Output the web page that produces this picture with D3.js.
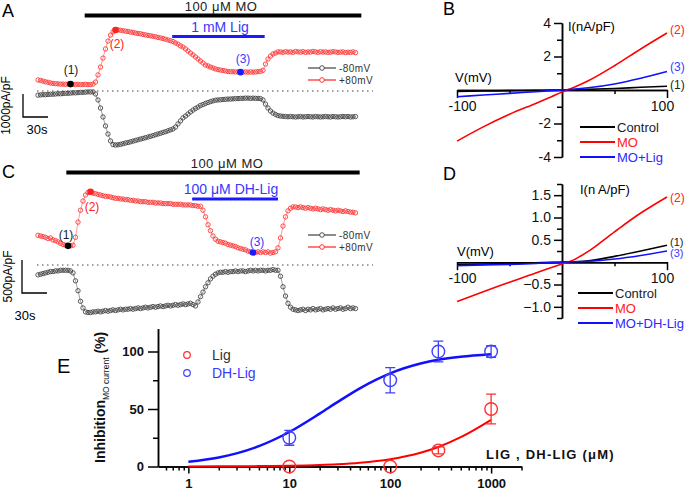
<!DOCTYPE html>
<html><head><meta charset="utf-8">
<script src="https://cdn.jsdelivr.net/npm/d3@7"></script>
<style>body{margin:0;background:#fff} svg{display:block} text{font-family:"Liberation Sans",Arial,sans-serif}</style>
</head><body><svg id="c" width="685" height="492"></svg>
<script>
// ---------- DATA ----------
const sampleInterval = 3; // seconds between samples (traces A, C)
// Panel A: current density (pA/pF)
const aPlus80 = [480,460,430,400,380,350,330,320,
310,300,300,290,300,300,290,280,290,280,280,290,280,280,
300,390,700,1040,1430,1830,2170,2430,2570,2650,
2660,2640,2620,2600,2590,2560,2550,2520,2500,2490,2460,2440,2420,2400,2380,2360,2330,2310,2280,2250,2220,2190,2150,
2090,2040,1960,1910,1830,1740,1650,1570,1480,1390,1300,1220,1130,1090,1040,1000,
960,930,910,890,870,
850,840,840,830,830,820,820,830,820,830,820,830,840,850,
900,1170,1390,1520,1610,1650,1700,
1700,1680,1710,1690,1700,1680,1720,1700,1690,1710,1680,1700,1690,1720,1700,1680,1710,1690,1700,1680,1690,1710,1700,1680,1690,1700,1670,1690,1680,1700,1670];
const aMinus80 = [-180,-170,-160,-160,-150,-140,-140,-130,-120,-120,-110,-100,-100,-90,-80,-80,-70,-60,-60,-50,-40,-40,-40,
-130,-390,-740,-1130,-1520,-1870,-2170,-2330,-2350,
-2340,-2320,-2290,-2260,-2240,-2210,-2180,-2150,-2120,-2090,-2060,-2030,-2000,-1970,-1940,-1900,-1870,-1840,-1800,-1770,-1730,-1690,-1650,
-1570,-1430,-1300,-1170,-1090,-1000,-910,-830,-760,-700,-630,-590,-540,-500,-460,-430,
-400,-390,-380,-370,-360,-350,-350,-340,-330,-330,-320,-320,-310,-310,-320,-310,-320,-320,-330,
-390,-570,-740,-870,-960,-1020,-1070,-1090,
-1100,-1110,-1120,-1110,-1120,-1130,-1120,-1110,-1130,-1120,-1110,-1120,-1130,-1110,-1120,-1130,-1120,-1110,-1120,-1130,-1110,-1120,-1130,-1120,-1110,-1120,-1110,-1130,-1120,-1110];
const aMarks = [13, 31, 81];          // sample index of (1), (2), (3)
const aMOperiod = [56, 388];          // s
const aLigPeriod = [161, 272];        // s
// Panel C
const cPlus80 = [450,440,430,420,400,410,380,370,350,330,310,300,
290,290,300,
420,650,830,970,1060,1100,1110,
1090,1080,1070,1060,1050,1040,1040,1030,1020,1010,1010,1000,1000,990,990,980,980,970,970,960,960,960,950,950,950,940,940,940,930,930,930,930,920,920,920,920,910,910,910,910,900,900,890,
890,830,730,610,520,440,390,360,350,
340,330,310,300,290,280,260,250,240,230,210,200,190,
190,200,190,200,190,200,180,190,200,
260,410,590,730,820,860,880,
880,870,880,870,860,870,860,850,860,850,840,850,840,830,840,830,820,830,820,810,820,810,800,800,790];
const cMinus80 = [-150,-140,-130,-120,-110,-100,-100,-90,-90,-80,-80,-80,-80,-90,
-120,-240,-390,-550,-650,-710,
-720,-720,-710,-710,-700,-710,-700,-690,-700,-690,-680,-690,-680,-670,-680,-670,-670,-660,-670,-660,-650,-660,-650,-640,-650,-640,-630,-640,-630,-620,-630,-620,-610,-620,-610,-600,-610,-600,-590,-600,-590,-580,-600,
-620,-560,-480,-410,-330,-270,-210,-170,-140,
-120,-110,-110,-100,-110,-100,-100,-90,-100,-90,-90,-100,-90,-80,-90,-80,-90,-80,-80,-90,-80,-80,-70,-80,-80,
-170,-330,-470,-580,-640,-670,-680,-690,
-680,-670,-690,-670,-680,-660,-680,-670,-660,-680,-670,-660,-670,-650,-670,-660,-650,-670,-660,-640,-660,-650,-660];
const cMarks = [12, 21, 86];
const cMOperiod = [34, 386];
const cLigPeriod = [185, 288];
// Panels B, D: I-V curves (nA/pF)
const ivV = [-100,-75,-50,-25,-10,0,10,25,50,75,100];
const bControl = [-0.08,-0.06,-0.04,-0.02,-0.01,0,0.01,0.04,0.09,0.16,0.22];
const bMO      = [-3.05,-2.2,-1.45,-0.8,-0.4,-0.12,0.12,0.55,1.45,2.45,3.4];
const bMOLig   = [-0.4,-0.3,-0.2,-0.1,-0.04,0,0.04,0.13,0.36,0.7,1.1];
const dControl = [-0.06,-0.05,-0.03,-0.015,-0.005,0,0.005,0.03,0.13,0.25,0.38];
const dMO      = [-0.88,-0.66,-0.45,-0.24,-0.12,-0.04,0.04,0.24,0.68,1.1,1.46];
const dMODHLig = [-0.08,-0.06,-0.05,-0.03,-0.01,0,0.01,0.02,0.07,0.15,0.25];
const bYTicks = [-4,-2,2,4], bYMinor = [-3,-1,1,3];
const dYTicks = [-1,-0.5,0.5,1,1.5], dYMinor = [-1.25,-0.75,-0.25,0.25,0.75,1.25,1.75];
const ivXTicks = [-100,100], ivXMinor = [-50,50];
// Panel E: concentration-response
const conc = [10,100,300,1000];
const ligMean = [0,0,14,50], ligErr = [0,0,3,13];
const dhMean = [25,75,100,100], dhErr = [6.5,11,9,5];
const fitX = [1,2,3,5,10,20,30,50,100,200,300,500,1000];
const fitLig = [0.07,0.14,0.2,0.34,0.68,1.35,2.0,3.3,6.4,12,17,25.5,40.6];
const fitDH  = [4.1,7.9,11.4,17.7,30,46,56,68,81,89.5,92.8,95.5,97.7];
const eXTicks = [1,10,100,1000];
const eXMinor = [0.6,0.7,0.8,0.9,2,3,4,5,6,7,8,9,20,30,40,50,60,70,80,90,200,300,400,500,600,700,800,900,2000];
const eYTicks = [0,50,100], eYMinor = [25,75];

// ---------- DRAW ----------
const svg = d3.select('#c');
const RED = '#ff2020', BLUE = '#1a1aff', GREY = '#404040';
function txt(x,y,s,o={}){
  const t = svg.append('text').attr('x',x).attr('y',y).text(s)
    .attr('font-size',o.size||13).attr('fill',o.fill||'#000')
    .attr('text-anchor',o.anchor||'start');
  if(o.weight) t.attr('font-weight',o.weight);
  if(o.ls) t.attr('letter-spacing',o.ls);
  return t;
}
// panel letters
txt(2,17,'A',{size:18}); txt(443,15,'B',{size:18});
txt(2,178,'C',{size:18}); txt(443,180,'D',{size:18});
txt(57,373,'E',{size:20});

function tracePanel(plus, minus, marks, moP, ligP, y0, pxPer, unit, ligLabel, opt){
  const x = d3.scaleLinear().domain([0,381]).range([38,355.5]);
  const y = d3.scaleLinear().domain([0,unit]).range([y0, y0-pxPer]);
  const g = svg.append('g');
  g.append('line').attr('x1',x(moP[0])).attr('x2',x(moP[1])).attr('y1',opt.moY).attr('y2',opt.moY).attr('stroke','#000').attr('stroke-width',4);
  txt(opt.moTx,opt.moY-4.5,'100 μM MO',{size:13,anchor:'middle',fill:'#222',ls:0.5});
  g.append('line').attr('x1',x(ligP[0])).attr('x2',x(ligP[1])).attr('y1',opt.ligY).attr('y2',opt.ligY).attr('stroke',BLUE).attr('stroke-width',3);
  txt(opt.ligTx,opt.ligY-5,ligLabel,{size:14,anchor:'middle',fill:'#3838ff'});
  g.append('line').attr('x1',37).attr('x2',373).attr('y1',y(0)).attr('y2',y(0)).attr('stroke','#444').attr('stroke-width',1).attr('stroke-dasharray','1.5,3.5');
  function tr(data,color){
    g.append('path').datum(data).attr('fill','none').attr('stroke',color).attr('stroke-width',0.5)
      .attr('d',d3.line().x((d,i)=>x(i*sampleInterval)).y(d=>y(d)));
    g.selectAll(null).data(data).join('circle').attr('cx',(d,i)=>x(i*sampleInterval)).attr('cy',d=>y(d))
      .attr('r',2.2).attr('fill','none').attr('stroke',color).attr('stroke-width',0.85);
  }
  tr(minus,GREY); tr(plus,'#ff3333');
  const mc = ['#000',RED,BLUE];
  marks.forEach((m,k)=>{
    g.append('circle').attr('cx',x(m*sampleInterval)).attr('cy',y(plus[m])).attr('r',3.3).attr('fill',mc[k]);
  });
  const lbl = ['(1)','(2)','(3)'], lc=['#222',RED,'#3838ff'];
  opt.lblPos.forEach((p,k)=>txt(p[0],p[1],lbl[k],{size:12,anchor:'middle',fill:lc[k]}));
  [[GREY,'-80mV'],[RED,'+80mV']].forEach((l,k)=>{
    const ly = opt.legY + k*12;
    g.append('line').attr('x1',308).attr('x2',336).attr('y1',ly).attr('y2',ly).attr('stroke',l[0]).attr('stroke-width',1.2);
    g.append('circle').attr('cx',322).attr('cy',ly).attr('r',2.3).attr('fill','#fff').attr('stroke',l[0]).attr('stroke-width',0.9);
    txt(339,ly+3.5,l[1],{size:10,fill:'#333',ls:0.4});
  });
  const sbx = opt.sbX, sbTop = opt.sbTop, sbBot = sbTop + (y(0)-y(unit));
  g.append('path').attr('d',`M${sbx},${sbTop}V${sbBot}H${sbx + (x(30)-x(0))}`).attr('fill','none').attr('stroke','#000').attr('stroke-width',1.3);
  svg.append('text').attr('transform',`translate(${opt.sbLblX},${(sbTop+sbBot)/2}) rotate(-90)`).attr('text-anchor','middle')
    .attr('font-size',12).text(unit+'pA/pF');
  txt(opt.sLblX, opt.sLblY, '30s',{size:13,anchor:'middle'});
}
tracePanel(aPlus80,aMinus80,aMarks,aMOperiod,aLigPeriod,91,23,1000,'1 mM Lig',
  {moY:15.5,moTx:221,ligY:36.5,ligTx:220,lblPos:[[71,74],[117,48],[243,63]],legY:68,
   sbX:23,sbTop:94,sbLblX:10,sLblX:37,sLblY:134});
tracePanel(cPlus80,cMinus80,cMarks,cMOperiod,cLigPeriod,265,33,500,'100 μM DH-Lig',
  {moY:172.5,moTx:227,ligY:199,ligTx:231,lblPos:[[66,239],[92,211],[257,246]],legY:235,
   sbX:22,sbTop:260,sbLblX:12,sLblX:25,sLblY:320});

// ----- IV panels -----
function ivPanel(ctrl, mo, lig, yDom, yRange, yT, yM, fmt, opt){
  const x = d3.scaleLinear().domain([-100,100]).range([457,667]);
  const y = d3.scaleLinear().domain(yDom).range(yRange);
  const g = svg.append('g');
  const ax = g.append('g').attr('transform',`translate(0,${y(0)})`);
  ax.call(d3.axisBottom(x).tickValues(ivXTicks).tickSize(8).tickSizeOuter(0).tickPadding(3).tickFormat(d=>String(d)));
  ax.selectAll('.tick text').attr('dx',d=>d<0?5:-5);
  const axm = g.append('g').attr('transform',`translate(0,${y(0)})`);
  axm.call(d3.axisBottom(x).tickValues(ivXMinor).tickSize(4).tickSizeOuter(0).tickFormat(''));
  const ay = g.append('g').attr('transform',`translate(${x(0)},0)`);
  ay.call(d3.axisLeft(y).tickValues(yT).tickSize(8).tickSizeOuter(0).tickPadding(3).tickFormat(fmt));
  const aym = g.append('g').attr('transform',`translate(${x(0)},0)`);
  aym.call(d3.axisLeft(y).tickValues(yM).tickSize(5).tickSizeOuter(0).tickFormat(''));
  g.selectAll('.domain, .tick line').attr('stroke','#000').attr('stroke-width',1.5);
  g.selectAll('.tick text').attr('font-size',14).attr('font-family','"Liberation Sans",Arial,sans-serif').attr('fill','#111');
  const line = d3.line().x((d,i)=>x(ivV[i])).y(d=>y(d)).curve(d3.curveMonotoneX);
  [[ctrl,'#000'],[mo,'#ff0000'],[lig,'#1010ff']].forEach(s=>{
    g.append('path').datum(s[0]).attr('d',line).attr('fill','none').attr('stroke',s[1]).attr('stroke-width',1.6);
  });
  txt(opt.iX,opt.iY,opt.iLbl,{size:13});
  txt(opt.vX,opt.vY,'V(mV)',{size:13});
  opt.tags.forEach(t=>txt(670,t[1],t[0],{size:t[3]||12,fill:t[2]}));
  opt.leg.forEach((l,k)=>{
    const ly = opt.legY + k*15;
    g.append('line').attr('x1',opt.legX).attr('x2',opt.legX+35).attr('y1',ly).attr('y2',ly).attr('stroke',l[1]).attr('stroke-width',2);
    txt(opt.legX+37,ly+4.5,l[0],{size:13,fill:l[2]});
  });
}
ivPanel(bControl,bMO,bMOLig,[-4,4],[157,23],bYTicks,bYMinor,d=>String(d),
  {iX:568,iY:31,iLbl:'I(nA/pF)',vX:455,vY:82,
   tags:[['(2)',34,'#ff2020'],['(3)',71,'#3a3aff'],['(1)',89,'#222']],
   legX:580,legY:127,leg:[['Control','#000','#222'],['MO','#ff0000','#ff2020'],['MO+Lig','#1010ff','#2a2aff']]});
ivPanel(dControl,dMO,dMODHLig,[-1.25,1.75],[318,184],dYTicks,dYMinor,d=>d3.format('.1f')(d),
  {iX:580,iY:194,iLbl:'I(n A/pF)',vX:457,vY:256,
   tags:[['(2)',202,'#ff2020'],['(1)',246,'#222',11],['(3)',257,'#3a3aff',11]],
   legX:578,legY:293,leg:[['Control','#000','#222'],['MO','#ff0000','#ff2020'],['MO+DH-Lig','#1010ff','#2a2aff']]});

// ----- Panel E -----
(function(){
  const x = d3.scaleLog().domain([0.5,2000]).range([158,521.5]);
  const y = d3.scaleLinear().domain([0,120]).range([466.5,328.5]);
  const g = svg.append('g');
  const ff = '"Liberation Sans",Arial,sans-serif';
  g.append('g').attr('transform',`translate(0,${y(0)})`)
    .call(d3.axisBottom(x).tickValues(eXTicks).tickSize(7).tickSizeOuter(0).tickPadding(5).tickFormat(d=>String(d)));
  g.append('g').attr('transform',`translate(0,${y(0)})`)
    .call(d3.axisBottom(x).tickValues(eXMinor).tickSize(4).tickSizeOuter(0).tickFormat(''));
  g.append('g').attr('transform',`translate(${x(0.5)},0)`)
    .call(d3.axisLeft(y).tickValues(eYTicks).tickSize(10).tickSizeOuter(0).tickPadding(4).tickFormat(d=>String(d)));
  g.append('g').attr('transform',`translate(${x(0.5)},0)`)
    .call(d3.axisLeft(y).tickValues(eYMinor).tickSize(5).tickSizeOuter(0).tickFormat(''));
  g.selectAll('.domain, .tick line').attr('stroke','#000').attr('stroke-width',1.5);
  g.selectAll('.tick text').attr('font-size',13).attr('font-weight','bold').attr('font-family',ff).attr('fill','#111');
  const line = d3.line().x((d,i)=>x(fitX[i])).y(d=>y(d)).curve(d3.curveMonotoneX);
  g.append('path').datum(fitLig).attr('d',line).attr('fill','none').attr('stroke','#ff0000').attr('stroke-width',2);
  g.append('path').datum(fitDH).attr('d',line).attr('fill','none').attr('stroke','#1010ff').attr('stroke-width',2.5);
  function pts(mean,err,color){
    conc.forEach((c,i)=>{
      if(err[i]>0){
        g.append('path').attr('d',`M${x(c)},${y(mean[i]-err[i])}V${y(mean[i]+err[i])}M${x(c)-5},${y(mean[i]+err[i])}H${x(c)+5}M${x(c)-5},${y(mean[i]-err[i])}H${x(c)+5}`)
          .attr('stroke',color).attr('stroke-width',1.3).attr('fill','none');
      }
      g.append('circle').attr('cx',x(c)).attr('cy',y(mean[i])).attr('r',6.3).attr('fill','none').attr('stroke',color).attr('stroke-width',1.4);
    });
  }
  pts(ligMean,ligErr,'#ff3030'); pts(dhMean,dhErr,'#4040ff');
  g.append('circle').attr('cx',187).attr('cy',355).attr('r',3.3).attr('fill','none').attr('stroke','#ff3030').attr('stroke-width',1.2);
  g.append('circle').attr('cx',187).attr('cy',373).attr('r',3.3).attr('fill','none').attr('stroke','#4040ff').attr('stroke-width',1.2);
  txt(212,360,'Lig',{size:14,fill:'#333'});
  txt(212,378,'DH-Lig',{size:14,fill:'#3838ff'});
  txt(486,459,'LIG , DH-LIG (μM)',{size:13,weight:'bold',ls:1.2,fill:'#111'});
  const yl = svg.append('text').attr('transform','translate(105,463) rotate(-90)').attr('font-weight','bold').attr('font-size',14).attr('fill','#111');
  yl.append('tspan').text('Inhibition');
  yl.append('tspan').attr('font-size',8.5).attr('font-weight','normal').attr('dy',3.5).text('MO current');
  yl.append('tspan').attr('dy',-3.5).text(' (%)');
})();
</script></body></html>
